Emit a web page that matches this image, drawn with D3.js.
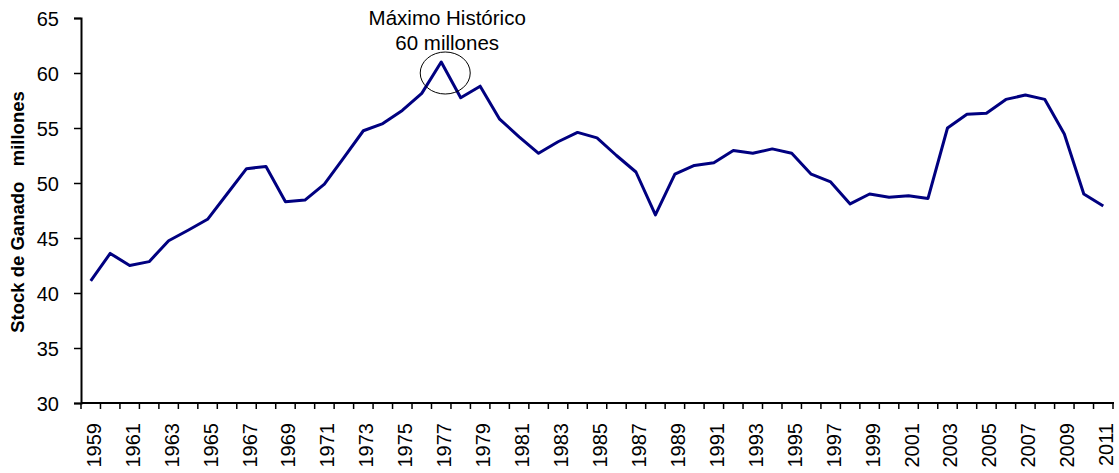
<!DOCTYPE html>
<html>
<head>
<meta charset="utf-8">
<script src="https://cdn.jsdelivr.net/npm/d3@7"></script>
<style>
  body { margin: 0; background: #fff; }
  svg { display: block; font-family: "Liberation Sans", Arial, sans-serif; }
</style>
</head>
<body>
<div id="chart"></div>
<script>
// stock de ganado (millones), 1959-2011
var years = d3.range(1959, 2012);
var stock = [
  41.1, 43.6, 42.5, 42.85, 44.75, 45.7, 46.7, 49.0, 51.3, 51.5,
  48.3, 48.45, 49.9, 52.3, 54.75, 55.4, 56.6, 58.15, 61.0, 57.75,
  58.8, 55.8, 54.2, 52.7, 53.75, 54.6, 54.1, 52.5, 51.0, 47.1,
  50.8, 51.6, 51.85, 52.95, 52.7, 53.1, 52.7, 50.8, 50.1, 48.1,
  49.0, 48.7, 48.85, 48.6, 55.0, 56.25, 56.35, 57.6, 58.0, 57.6,
  54.45, 49.0, 47.9
];
var yTicks = [30, 35, 40, 45, 50, 55, 60, 65];
var labelYears = years.filter(y => y % 2 === 1);
var annotLines = ["Máximo Histórico", "60 millones"];
var peakYear = 1977;

var width = 1119, height = 473;
var margin = { top: 18, right: 6, bottom: 70, left: 81 };
const FONT = "Liberation Sans, Arial, sans-serif";

const svg = d3.select("#chart")
  .append("svg")
  .attr("width", width)
  .attr("height", height);

var x = d3.scaleBand()
  .domain(years)
  .range([margin.left, width - margin.right])
  .padding(0);

var y = d3.scaleLinear()
  .domain([30, 65])
  .range([height - margin.bottom, margin.top]);

// y axis
const yAxis = svg.append("g")
  .attr("transform", `translate(${margin.left},0)`)
  .call(d3.axisLeft(y).tickValues(yTicks).tickSize(7).tickPadding(15));
yAxis.select(".domain").attr("stroke", "#000").attr("stroke-width", 2);
yAxis.selectAll(".tick line").attr("stroke", "#000").attr("stroke-width", 1.5);
yAxis.selectAll(".tick text")
  .attr("font-size", 20)
  .attr("dy", "0.35em")
  .attr("fill", "#000")
  .attr("font-family", FONT);

// x axis baseline + ticks at band edges
const xg = svg.append("g");
xg.append("line")
  .attr("x1", margin.left).attr("x2", width - margin.right + 1)
  .attr("y1", y(30)).attr("y2", y(30))
  .attr("stroke", "#000").attr("stroke-width", 2);

var edges = years.map(d => x(d)).concat([x(years[years.length - 1]) + x.bandwidth()]);
xg.selectAll("line.tk")
  .data(edges)
  .join("line")
  .attr("class", "tk")
  .attr("x1", d => d).attr("x2", d => d)
  .attr("y1", y(30)).attr("y2", y(30) + 6)
  .attr("stroke", "#000").attr("stroke-width", 1.5);

xg.selectAll("text")
  .data(labelYears)
  .join("text")
  .attr("transform", d => `translate(${x(d) + x.bandwidth() / 2 + 10},${y(30) + 20}) rotate(-90)`)
  .attr("text-anchor", "end")
  .attr("font-size", 20)
  .attr("fill", "#000")
  .text(d => d);

// y label
svg.append("text")
  .attr("transform", `translate(24,212) rotate(-90)`)
  .attr("text-anchor", "middle")
  .attr("font-size", 18.5)
  .attr("font-weight", "bold")
  .attr("fill", "#000")
  .attr("xml:space", "preserve")
  .style("white-space", "pre")
  .text("Stock de Ganado   millones");

// line
var line = d3.line()
  .x((d, i) => x(years[i]) + x.bandwidth() / 2)
  .y(d => y(d));

svg.append("path")
  .datum(stock)
  .attr("fill", "none")
  .attr("stroke", "#000080")
  .attr("stroke-width", 3)
  .attr("stroke-linejoin", "round")
  .attr("d", line);

// annotation
var px = x(peakYear) + x.bandwidth() / 2;
var py = y(stock[years.indexOf(peakYear)]);
svg.append("ellipse")
  .attr("cx", px + 4).attr("cy", py + 11)
  .attr("rx", 25).attr("ry", 21)
  .attr("fill", "none")
  .attr("stroke", "#000")
  .attr("stroke-width", 1);

svg.append("g")
  .selectAll("text")
  .data(annotLines)
  .join("text")
  .attr("x", px + 6)
  .attr("y", (d, i) => 25 + i * 25)
  .attr("text-anchor", "middle")
  .attr("font-size", 20.5)
  .attr("fill", "#000")
  .text(d => d);
</script>
</body>
</html>
